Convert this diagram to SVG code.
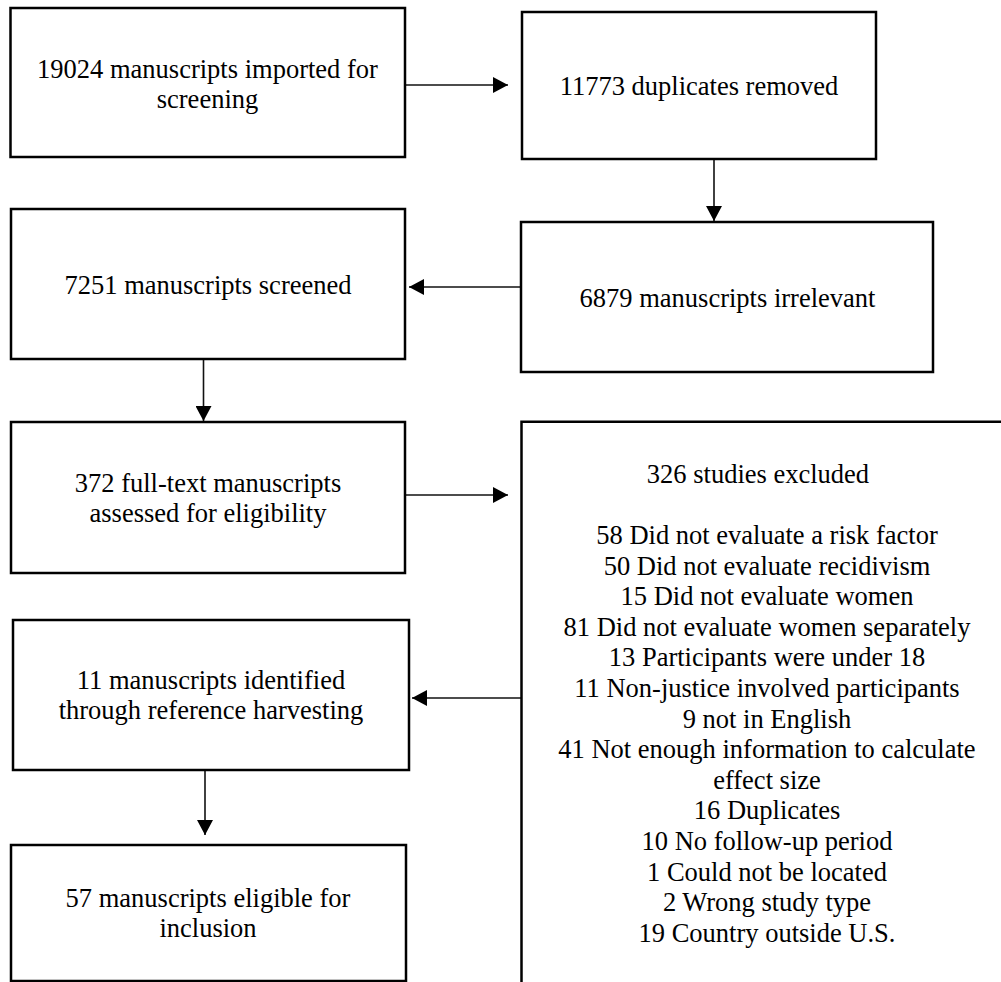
<svg xmlns="http://www.w3.org/2000/svg" width="1001" height="982" viewBox="0 0 1001 982">
<style>
.box{fill:#fff;stroke:#000;stroke-width:2.5}
.conn{stroke:#111;stroke-width:1.6;fill:none}
text{font-family:'Liberation Serif','Times New Roman',serif;font-size:26.5px;fill:#000;text-anchor:middle}
</style>
<defs>
<marker id="ah" markerUnits="userSpaceOnUse" markerWidth="16" markerHeight="16" refX="15" refY="8" orient="auto">
<path d="M0,0 L15,8 L0,16 z" fill="#000"/>
</marker>
</defs>
<rect width="1001" height="982" fill="#fff"/>
<g id="connectors">
<line class="conn" x1="406" y1="85" x2="508" y2="85" marker-end="url(#ah)"/>
<line class="conn" x1="714" y1="159" x2="714" y2="221" marker-end="url(#ah)"/>
<line class="conn" x1="520" y1="287" x2="409" y2="287" marker-end="url(#ah)"/>
<line class="conn" x1="203.5" y1="359" x2="203.5" y2="421" marker-end="url(#ah)"/>
<line class="conn" x1="406" y1="495" x2="508" y2="495" marker-end="url(#ah)"/>
<line class="conn" x1="521" y1="698" x2="412" y2="698" marker-end="url(#ah)"/>
<line class="conn" x1="205" y1="770" x2="205" y2="835" marker-end="url(#ah)"/>
</g>
<g id="n1">
<rect class="box" x="10.5" y="8" width="394.5" height="149"/>
<text x="207.5" y="78">19024 manuscripts imported for</text>
<text x="207.5" y="107.5">screening</text>
</g>
<g id="n2">
<rect class="box" x="522" y="12" width="354" height="147"/>
<text x="699" y="94.5">11773 duplicates removed</text>
</g>
<g id="n3">
<rect class="box" x="11" y="209" width="394" height="150"/>
<text x="208" y="294">7251 manuscripts screened</text>
</g>
<g id="n4">
<rect class="box" x="521" y="222" width="412" height="150"/>
<text x="727.5" y="307">6879 manuscripts irrelevant</text>
</g>
<g id="n5">
<rect class="box" x="11" y="422" width="394" height="151"/>
<text x="208" y="491.5">372 full-text manuscripts</text>
<text x="208" y="521.5">assessed for eligibility</text>
</g>
<g id="n6">
<path class="box" d="M521.5,984 V421.7 H1004" fill="none"/>
<text x="758" y="482.8">326 studies excluded</text>
<text x="767" y="544">58 Did not evaluate a risk factor</text>
<text x="767" y="574.6">50 Did not evaluate recidivism</text>
<text x="767" y="605.2">15 Did not evaluate women</text>
<text x="767" y="635.8">81 Did not evaluate women separately</text>
<text x="767" y="666.4">13 Participants were under 18</text>
<text x="767" y="697">11 Non-justice involved participants</text>
<text x="767" y="727.6">9 not in English</text>
<text x="767" y="758.2">41 Not enough information to calculate</text>
<text x="767" y="788.8">effect size</text>
<text x="767" y="819.4">16 Duplicates</text>
<text x="767" y="850">10 No follow-up period</text>
<text x="767" y="880.6">1 Could not be located</text>
<text x="767" y="911.2">2 Wrong study type</text>
<text x="767" y="941.8">19 Country outside U.S.</text>
</g>
<g id="n7">
<rect class="box" x="13" y="620" width="396" height="150"/>
<text x="211" y="689">11 manuscripts identified</text>
<text x="211" y="719">through reference harvesting</text>
</g>
<g id="n8">
<rect class="box" x="11" y="845" width="395" height="136"/>
<text x="208" y="907">57 manuscripts eligible for</text>
<text x="208" y="937">inclusion</text>
</g>
</svg>
